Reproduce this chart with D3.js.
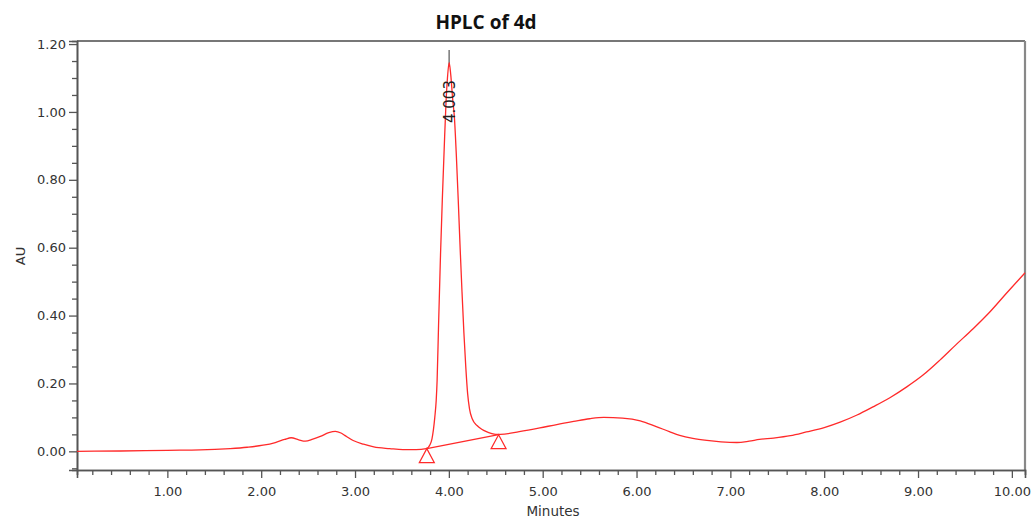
<!DOCTYPE html>
<html>
<head>
<meta charset="utf-8">
<script src="https://cdn.jsdelivr.net/npm/d3@7"></script>
<style>
  html, body { margin: 0; padding: 0; background: #fff; }
  svg { display: block; }
</style>
</head>
<body>
<svg id="chart" width="1034" height="519"></svg>
<script>
// ---------- data ----------
const chartTitle = "HPLC of 4d";
const xLabel = "Minutes";
const yLabel = "AU";

const times = [0.037, 0.5, 1.0, 1.35, 1.67, 1.85, 2.02, 2.15, 2.25, 2.32, 2.40, 2.47, 2.55, 2.63, 2.72, 2.79, 2.85, 2.89, 2.98, 3.09, 3.2, 3.37, 3.51, 3.65, 3.76,
  3.80, 3.82, 3.85, 3.865, 3.875, 3.89, 3.91, 3.93, 3.95, 3.97, 3.985, 4.003, 4.02, 4.04, 4.06, 4.08, 4.10, 4.12, 4.14, 4.16, 4.18, 4.20, 4.22, 4.25, 4.30, 4.35, 4.40, 4.45, 4.50, 4.55,
  4.75, 4.97, 5.15, 5.33, 5.50, 5.65, 5.85, 6.04, 6.21, 6.35, 6.46, 6.60, 6.75, 6.90, 7.07, 7.20, 7.31, 7.46, 7.64, 7.81, 8.00, 8.17, 8.35, 8.52, 8.70, 8.88, 9.05, 9.23, 9.40, 9.59, 9.77, 9.94, 10.14];
const au = [0.000, 0.001, 0.003, 0.004, 0.008, 0.012, 0.018, 0.026, 0.035, 0.040, 0.034, 0.030, 0.036, 0.044, 0.055, 0.059, 0.054, 0.047, 0.032, 0.021, 0.013, 0.008, 0.005, 0.005, 0.008,
  0.020, 0.037, 0.100, 0.150, 0.210, 0.370, 0.570, 0.740, 0.890, 1.030, 1.100, 1.145, 1.110, 1.040, 0.980, 0.870, 0.740, 0.600, 0.470, 0.350, 0.250, 0.170, 0.125, 0.095, 0.076, 0.065, 0.058, 0.053, 0.050, 0.050,
  0.058, 0.069, 0.079, 0.088, 0.096, 0.100, 0.098, 0.090, 0.073, 0.058, 0.047, 0.038, 0.032, 0.028, 0.026, 0.030, 0.035, 0.039, 0.046, 0.057, 0.070, 0.086, 0.107, 0.131, 0.158, 0.190, 0.224, 0.268, 0.313, 0.362, 0.412, 0.465, 0.526];

const peakLabel = "4.003";
const peakTime = 4.003;
const peakApex = 1.145;
const peakStart = [3.765, 0.008];
const peakEnd = [4.53, 0.049];

const xMajorTicks = [1, 2, 3, 4, 5, 6, 7, 8, 9, 10];
const xMinorTicks = [0.2, 0.4, 0.6, 0.8, 1.2, 1.4, 1.6, 1.8, 2.2, 2.4, 2.6, 2.8, 3.2, 3.4, 3.6, 3.8, 4.2, 4.4, 4.6, 4.8, 5.2, 5.4, 5.6, 5.8, 6.2, 6.4, 6.6, 6.8, 7.2, 7.4, 7.6, 7.8, 8.2, 8.4, 8.6, 8.8, 9.2, 9.4, 9.6, 9.8];
const yMajorTicks = [0, 0.2, 0.4, 0.6, 0.8, 1.0, 1.2];
const yMinorTicks = [-0.05, 0.05, 0.1, 0.15, 0.25, 0.3, 0.35, 0.45, 0.5, 0.55, 0.65, 0.7, 0.75, 0.85, 0.9, 0.95, 1.05, 1.1, 1.15];

// ---------- layout ----------
const plotLeft = 77, plotRight = 1025, plotTop = 41, plotBottom = 470;
const x = d3.scaleLinear().domain([0.037, 10.14]).range([plotLeft, plotRight]);
const y = d3.scaleLinear().domain([-0.055, 1.209]).range([plotBottom, plotTop]);

const svg = d3.select("#chart");
const red = "#ff2a2a";
const tickFont = "DejaVu Sans, Verdana, sans-serif";

// frame (top and right)
svg.append("line").attr("x1", plotLeft).attr("x2", plotRight).attr("y1", plotTop).attr("y2", plotTop)
  .attr("stroke", "#777").attr("stroke-width", 2);
svg.append("line").attr("x1", plotRight).attr("x2", plotRight).attr("y1", plotTop).attr("y2", plotBottom)
  .attr("stroke", "#888").attr("stroke-width", 2.2);

// axes
const fmt = d3.format(".2f");
const yAxisMajor = d3.axisLeft(y).tickValues(yMajorTicks).tickFormat(fmt).tickSize(8).tickPadding(3);
const yAxisMinor = d3.axisLeft(y).tickValues(yMinorTicks).tickFormat("").tickSize(5);
const xAxisMajor = d3.axisBottom(x).tickValues(xMajorTicks).tickFormat(fmt).tickSize(8).tickPadding(9);
const xAxisMinor = d3.axisBottom(x).tickValues(xMinorTicks).tickFormat("").tickSize(5);

function styleAxis(g) {
  g.select(".domain").attr("stroke", "#555").attr("stroke-width", 1.6);
  g.selectAll(".tick line").attr("stroke", "#555").attr("stroke-width", 1.3);
  g.selectAll(".tick text").attr("fill", "#333").style("font-family", tickFont).style("font-size", "13px");
}
svg.append("g").attr("transform", `translate(${plotLeft},0)`).call(yAxisMinor).call(styleAxis);
svg.append("g").attr("transform", `translate(${plotLeft},0)`).call(yAxisMajor).call(styleAxis);
svg.append("g").attr("transform", `translate(0,${plotBottom})`).call(xAxisMinor).call(styleAxis);
svg.append("g").attr("transform", `translate(0,${plotBottom})`).call(xAxisMajor).call(styleAxis);

// chromatogram
const pts = times.map((t, i) => [t, au[i]]);
const line = d3.line().x(d => x(d[0])).y(d => y(d[1])).curve(d3.curveMonotoneX);

// apex marker line
svg.append("line").attr("x1", x(peakTime)).attr("x2", x(peakTime))
  .attr("y1", 50).attr("y2", y(peakApex) + 4)
  .attr("stroke", "#777").attr("stroke-width", 1.5);

svg.append("path").datum(pts).attr("d", line)
  .attr("fill", "none").attr("stroke", red).attr("stroke-width", 1.3);

// integration baseline
svg.append("line")
  .attr("x1", x(peakStart[0])).attr("y1", y(peakStart[1]))
  .attr("x2", x(peakEnd[0])).attr("y2", y(peakEnd[1]))
  .attr("stroke", red).attr("stroke-width", 1.3);

// triangles
[peakStart, peakEnd].forEach(p => {
  const px = x(p[0]), py = y(p[1]);
  svg.append("path")
    .attr("d", `M${px},${py} L${px - 7.5},${py + 14} L${px + 7.5},${py + 14} Z`)
    .attr("fill", "none").attr("stroke", red).attr("stroke-width", 1.2);
});

// peak label
svg.append("text")
  .attr("transform", `translate(${x(peakTime) + 6},${123}) rotate(-90)`)
  .attr("text-anchor", "start")
  .style("font-family", tickFont).style("font-size", "15px").attr("fill", "#222")
  .text(peakLabel);

// titles
svg.append("text").attr("x", 486).attr("y", 29).attr("text-anchor", "middle")
  .style("font-family", "Open Sans, sans-serif").style("font-weight", "bold").style("font-size", "19px")
  .attr("fill", "#111").text(chartTitle);

svg.append("text").attr("x", 553).attr("y", 516).attr("text-anchor", "middle")
  .style("font-family", tickFont).style("font-size", "13.5px").attr("fill", "#333").text(xLabel);

svg.append("text").attr("transform", `translate(25,256) rotate(-90)`).attr("text-anchor", "middle")
  .style("font-family", tickFont).style("font-size", "13px").attr("fill", "#333").text(yLabel);
</script>
</body>
</html>
